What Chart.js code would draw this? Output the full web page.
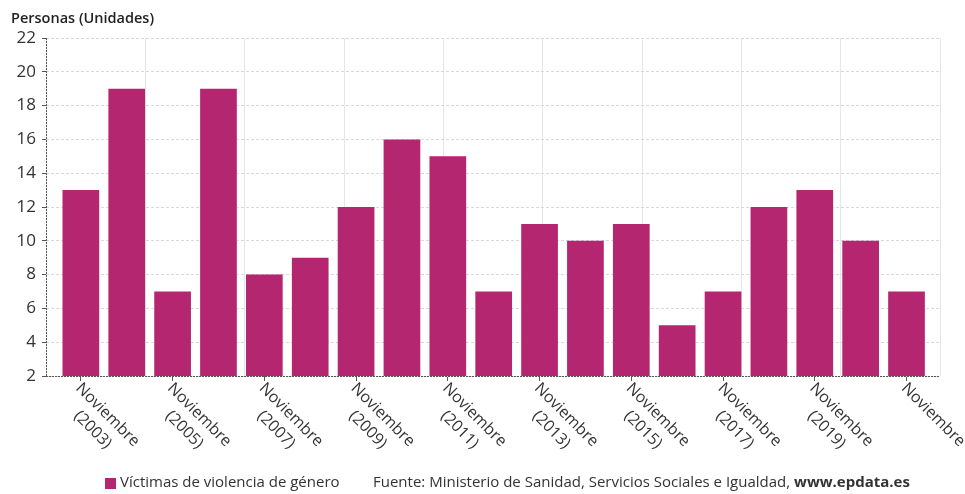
<!DOCTYPE html>
<html>
<head>
<meta charset="utf-8">
<script src="https://cdn.jsdelivr.net/npm/chart.js@4.4.1/dist/chart.umd.min.js"></script>
<style>
  html, body { margin: 0; padding: 0; background: #fff; }
  #wrap { width: 965px; height: 494px; }
</style>
</head>
<body>
<div id="wrap"><canvas id="grafica"></canvas></div>
<script>
// datos
const anios = [2003, 2004, 2005, 2006, 2007, 2008, 2009, 2010, 2011, 2012,
               2013, 2014, 2015, 2016, 2017, 2018, 2019, 2020, 2021];
const victimas = [13, 19, 7, 19, 8, 9, 12, 16, 15, 7, 11, 10, 11, 5, 7, 12, 13, 10, 7];
// etiquetas que se ven en el eje x (una de cada dos)
const etiquetasX = [
  ['Noviembre', '(2003)'], ['Noviembre', '(2005)'], ['Noviembre', '(2007)'],
  ['Noviembre', '(2009)'], ['Noviembre', '(2011)'], ['Noviembre', '(2013)'],
  ['Noviembre', '(2015)'], ['Noviembre', '(2017)'], ['Noviembre', '(2019)'],
  ['Noviembre']
];
const ticksY = [2, 4, 6, 8, 10, 12, 14, 16, 18, 20, 22];
const tituloY = 'Personas (Unidades)';
const leyenda = 'Víctimas de violencia de género';
const fuente = 'Fuente: Ministerio de Sanidad, Servicios Sociales e Igualdad, ';
const fuenteWeb = 'www.epdata.es';

const color = 'rgb(180, 38, 112)';
const fuenteTxt = '"Open Sans", "DejaVu Sans", sans-serif';

const extras = {
  id: 'extras',
  afterDraw(chart) {
    const ctx = chart.ctx;
    const xs = chart.scales.x;
    const ys = chart.scales.y;
    ctx.save();

    // ejes punteados
    ctx.strokeStyle = '#555';
    ctx.lineWidth = 1;
    ctx.setLineDash([2, 1]);
    ctx.beginPath();
    ctx.moveTo(xs.left + 0.5, ys.top);
    ctx.lineTo(xs.left + 0.5, ys.bottom);
    ctx.moveTo(xs.left, ys.bottom + 0.5);
    ctx.lineTo(xs.right, ys.bottom + 0.5);
    ctx.stroke();
    ctx.setLineDash([]);

    // titulo del eje y
    ctx.fillStyle = '#222';
    ctx.font = '600 14.5px ' + fuenteTxt;
    ctx.textAlign = 'left';
    ctx.textBaseline = 'middle';
    ctx.fillText(tituloY, 11, 19);

    // etiquetas del eje x giradas
    ctx.fillStyle = '#333';
    ctx.font = '16px ' + fuenteTxt;
    etiquetasX.forEach((lab, k) => {
      const px = xs.getPixelForValue(k * 2);
      ctx.save();
      ctx.translate(px + 3, ys.bottom + 4);
      ctx.rotate(Math.PI / 4);
      ctx.textBaseline = 'top';
      ctx.textAlign = 'left';
      ctx.fillText(lab[0], 0, 0);
      if (lab[1]) {
        const w = ctx.measureText(lab[0]).width;
        ctx.textAlign = 'center';
        ctx.fillText(lab[1], w / 2, 21);
      }
      ctx.restore();
    });

    // leyenda y fuente
    const yl = 483;
    ctx.fillStyle = color;
    ctx.fillRect(105, yl - 5, 11, 11);
    ctx.fillStyle = '#333';
    ctx.font = '15px ' + fuenteTxt;
    ctx.textAlign = 'left';
    ctx.textBaseline = 'middle';
    ctx.fillText(leyenda, 120, yl);
    ctx.fillText(fuente, 373, yl);
    const w = ctx.measureText(fuente).width;
    ctx.font = 'bold 15px ' + fuenteTxt;
    ctx.fillText(fuenteWeb, 373 + w, yl);

    ctx.restore();
  }
};

new Chart(document.getElementById('grafica'), {
  type: 'bar',
  data: {
    datasets: [{
      label: leyenda,
      data: victimas.map((v, i) => ({ x: i, y: v })),
      backgroundColor: color,
      borderWidth: 0,
      barPercentage: 0.8,
      categoryPercentage: 1
    }]
  },
  options: {
    responsive: true,
    maintainAspectRatio: false,
    animation: false,
    layout: { padding: { top: 38, right: 25, left: 0, bottom: 0 } },
    plugins: {
      legend: { display: false },
      tooltip: { enabled: false }
    },
    scales: {
      x: {
        type: 'linear',
        offset: false,
        min: -0.76,
        max: anios.length - 0.27,
        afterBuildTicks: s => {
          s.ticks = anios.map((a, i) => ({ value: i })).filter(t => t.value % 2 === 0);
        },
        afterFit: s => { s.height = 118; },
        ticks: { display: false },
        grid: { offset: false, drawOnChartArea: false, tickColor: '#555', tickLength: 5 },
        border: { display: false }
      },
      x2: {
        type: 'linear',
        position: 'top',
        offset: false,
        min: -1,
        max: 8,
        afterFit: s => { s.height = 0; },
        ticks: { display: false, stepSize: 1 },
        grid: { offset: false, color: '#e6e6e6', drawTicks: false },
        border: { display: false }
      },
      y: {
        min: 2,
        max: 22,
        afterBuildTicks: s => { s.ticks = ticksY.map(v => ({ value: v })); },
        afterFit: s => { s.width = 46; },
        ticks: {
          color: '#333',
          padding: 6,
          font: { family: fuenteTxt, size: 17 }
        },
        grid: { color: '#d9d9d9', tickColor: '#555', tickLength: 4 },
        border: { display: false, dash: [3, 2] }
      }
    }
  },
  plugins: [extras]
});
</script>
</body>
</html>
